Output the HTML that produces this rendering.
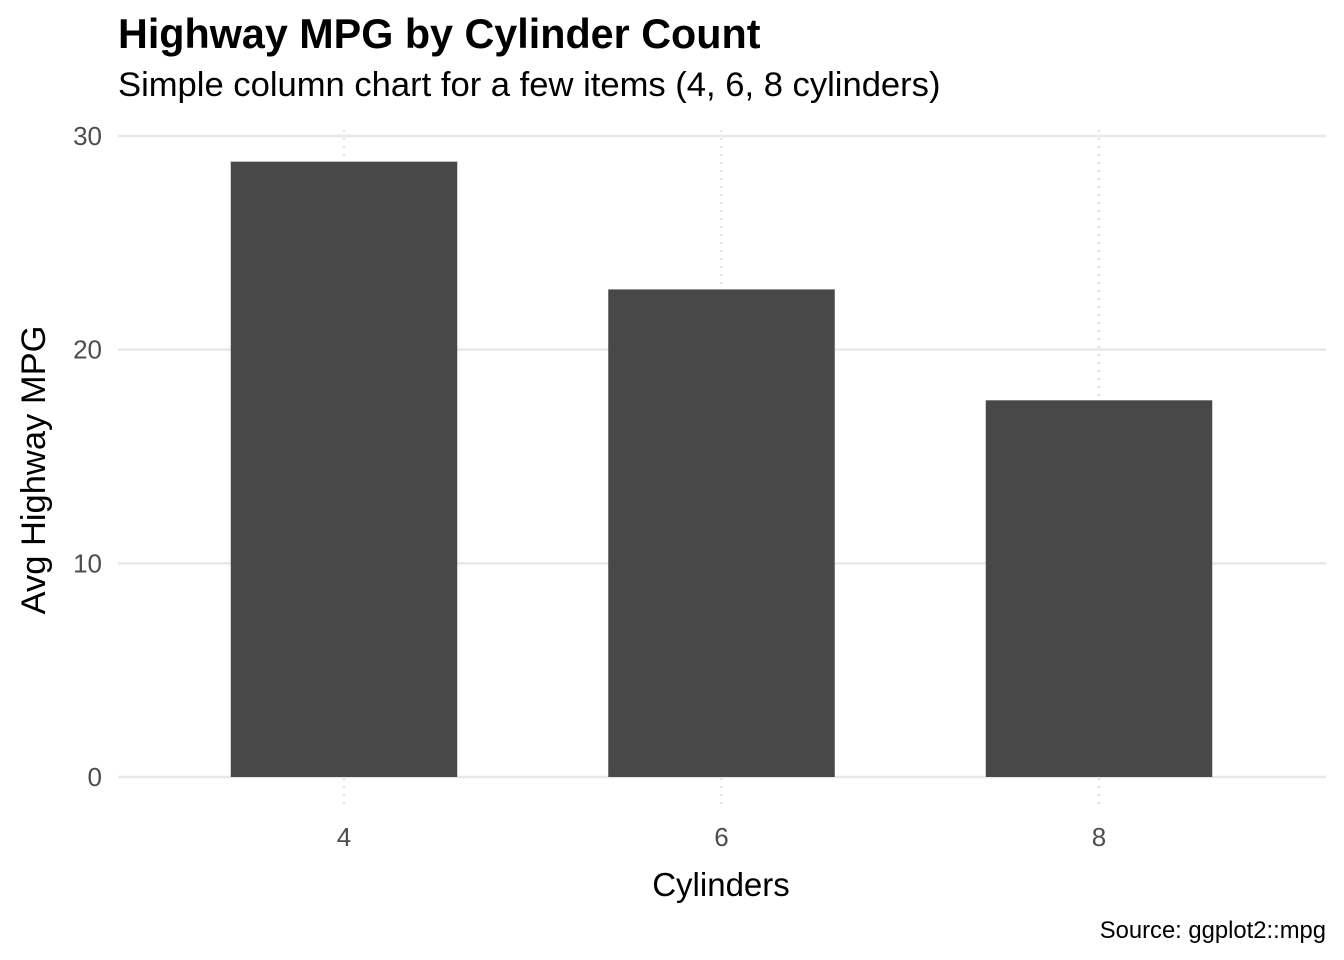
<!DOCTYPE html>
<html><head><meta charset="utf-8"><style>
body{margin:0;background:#fff;}
svg{display:block;font-family:"Liberation Sans",Arial,sans-serif;}
</style></head><body>
<svg id="chart" width="1344" height="960" viewBox="0 0 1344 960">
<text x="118" y="48" font-size="41.3" font-weight="bold" fill="#000">Highway MPG by Cylinder Count</text>
<text x="118" y="96" font-size="34.6" fill="#000">Simple column chart for a few items (4, 6, 8 cylinders)</text>
<g id="grid"></g>
<g id="bars"></g>
<g id="ticks"></g>
<text x="721" y="896" font-size="33" text-anchor="middle" fill="#000">Cylinders</text>
<text transform="translate(45,470) rotate(-90)" font-size="34.5" text-anchor="middle" fill="#000">Avg Highway MPG</text>
<text x="1326" y="938" font-size="23.8" text-anchor="end" fill="#000">Source: ggplot2::mpg</text>
</svg>
<script>
const categories = ["4", "6", "8"];
const values = [28.80, 22.82, 17.63];
const yTicks = [0, 10, 20, 30];

const NS = "http://www.w3.org/2000/svg";
const left = 118, right = 1326, y0 = 777, y30 = 136;
function yScale(v){ return y0 - (v/30)*(y0-y30); }
const step = (right-left)/(categories.length-1+1.2);
function xScale(i){ return left + step*(0.6+i) - 0.5; }
const bw = step*0.6;
function mk(tag, attrs, parent){ const e=document.createElementNS(NS,tag); for(const k in attrs) e.setAttribute(k,attrs[k]); parent.appendChild(e); return e; }
const grid=document.getElementById('grid'), bars=document.getElementById('bars'), ticks=document.getElementById('ticks');
yTicks.forEach(t=>{
  const y=yScale(t);
  const l=mk('line',{x1:left,x2:right,y1:y,y2:y,stroke:'#e8e8e8','stroke-width':2.5},grid);
  
  
  const tx=mk('text',{x:102,y:y+9,'font-size':26,'text-anchor':'end',fill:'#4d4d4d'},ticks);
  tx.textContent=t;
  
  
});
categories.forEach((c,i)=>{
  const x=xScale(i);
  const l=mk('line',{x1:x,x2:x,y1:130,y2:810,stroke:'#e3e3e3','stroke-width':2.5,'stroke-dasharray':'2 6'},grid);
  
  
  const r=mk('rect',{x:x-bw/2,y:yScale(values[i]),width:bw,height:yScale(0)-yScale(values[i]),fill:'#484848'},bars);
  
  
  const tx=mk('text',{x:x,y:846,'font-size':26,'text-anchor':'middle',fill:'#4d4d4d'},ticks);
  tx.textContent=c;
  
  
});
</script>
</body></html>
